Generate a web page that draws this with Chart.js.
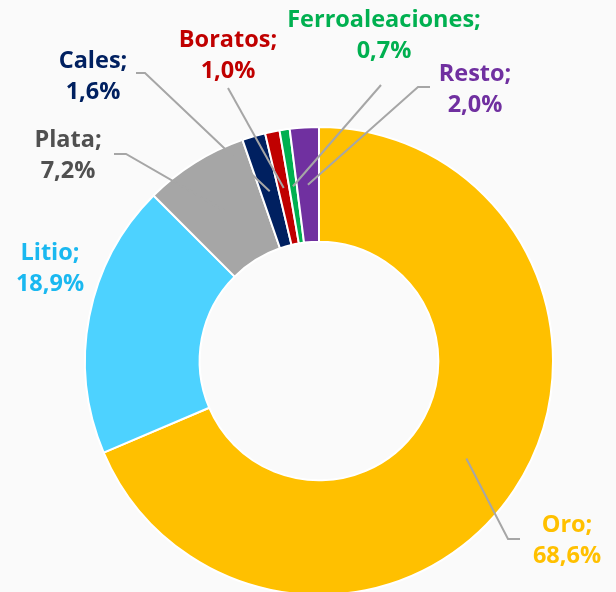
<!DOCTYPE html>
<html>
<head>
<meta charset="utf-8">
<script src="https://cdn.jsdelivr.net/npm/chart.js@4"></script>
<style>
  html, body { margin: 0; padding: 0; background: #fafafa; overflow: hidden; }
  #wrap { width: 616px; height: 600px; }
</style>
</head>
<body>
<div id="wrap"><canvas id="donut" width="616" height="600"></canvas></div>
<script>
// data
const categories = ["Oro", "Litio", "Plata", "Cales", "Boratos", "Ferroaleaciones", "Resto"];
const shares = [68.6, 18.9, 7.2, 1.6, 1.0, 0.7, 2.0];
const sliceColors = ["#FFC000", "#4DD2FF", "#A6A6A6", "#002060", "#C00000", "#00B050", "#7030A0"];
const textColors = ["#FFC000", "#1AB8F0", "#505050", "#002060", "#C00000", "#00B050", "#7030A0"];

// label placement (text centre, first line) and leader line start / elbow
const labelPos = [[567, 525], [50, 253], [68, 140], [93, 61], [228, 40], [384, 20], [475, 74]];
const leaderPts = [
  [[520, 539], [508, 539]],
  null,
  [[114, 154], [126, 154]],
  [[136, 73], [145, 73]],
  [[228, 88]],
  [[381, 85]],
  [[430, 87], [418, 87]]
];

const fmt = (v) => v.toFixed(1).replace(".", ",") + "%";

const labelsPlugin = {
  id: "calloutLabels",
  afterDatasetsDraw(chart) {
    const ctx = chart.ctx;
    const arcs = chart.getDatasetMeta(0).data;
    ctx.save();
    // leader lines
    ctx.strokeStyle = "#A6A6A6";
    ctx.lineWidth = 2;
    arcs.forEach((arc, i) => {
      const pts = leaderPts[i];
      if (!pts) return;
      const end = arc.getCenterPoint();
      ctx.beginPath();
      ctx.moveTo(pts[0][0], pts[0][1]);
      for (let k = 1; k < pts.length; k++) ctx.lineTo(pts[k][0], pts[k][1]);
      ctx.lineTo(end.x, end.y);
      ctx.stroke();
    });
    // texts
    ctx.font = "bold 23.5px 'Open Sans'";
    ctx.textAlign = "center";
    ctx.textBaseline = "middle";
    categories.forEach((c, i) => {
      ctx.fillStyle = textColors[i];
      ctx.fillText(c + ";", labelPos[i][0], labelPos[i][1]);
      ctx.fillText(fmt(shares[i]), labelPos[i][0], labelPos[i][1] + 31);
    });
    ctx.restore();
  }
};

new Chart(document.getElementById("donut").getContext("2d"), {
  type: "doughnut",
  data: {
    labels: categories,
    datasets: [{
      data: shares,
      backgroundColor: sliceColors,
      borderColor: "#FFFFFF",
      borderWidth: 2,
      hoverOffset: 0,
      offset: 0
    }]
  },
  options: {
    responsive: false,
    animation: false,
    cutout: "51%",
    layout: { padding: { left: 84, right: 62, top: 126, bottom: 4 } },
    plugins: { legend: { display: false }, tooltip: { enabled: false } },
    events: []
  },
  plugins: [labelsPlugin]
});
</script>
</body>
</html>
